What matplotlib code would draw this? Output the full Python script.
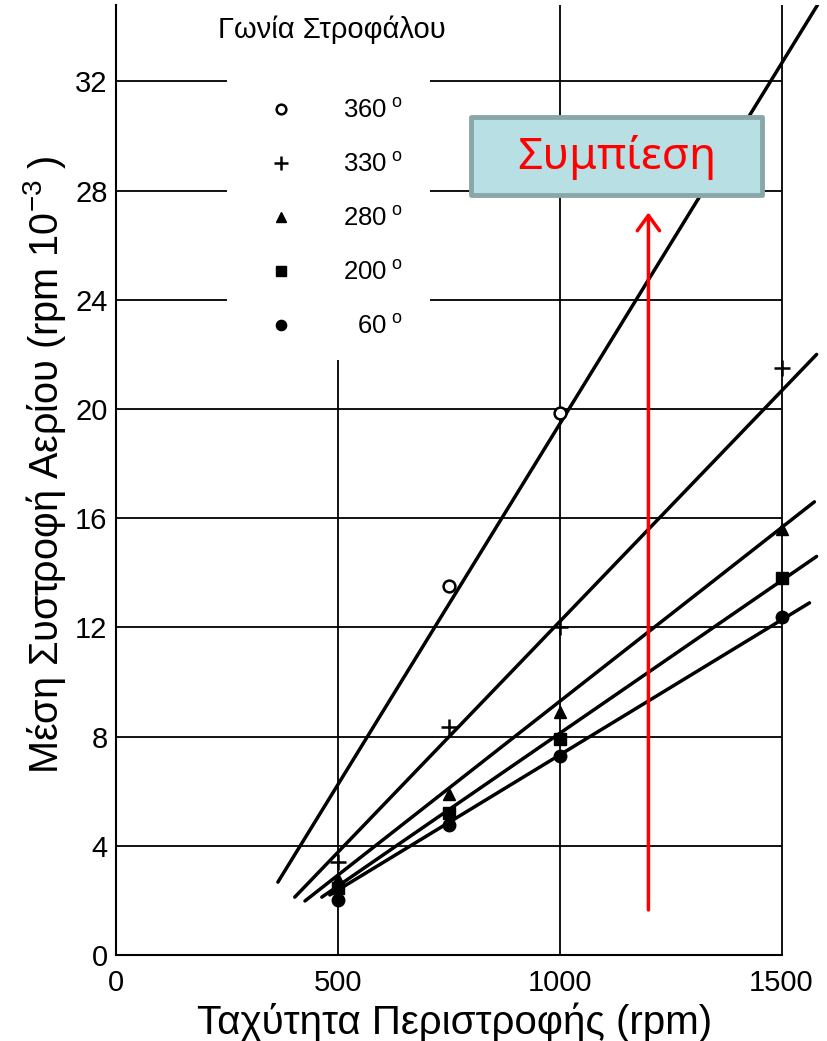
import matplotlib
matplotlib.use('Agg')
import matplotlib.pyplot as plt
from matplotlib.patches import Rectangle

plt.rcParams['font.family'] = ['Liberation Sans', 'DejaVu Sans']
plt.rcParams['mathtext.default'] = 'regular'

# measured points (rpm, torque x 10^-3)
rpm = [500, 750, 1000, 1500]
rpm_360 = [750, 1000]
t360 = [13.5, 19.85]
t330 = [3.4, 8.35, 12.0, 21.5]
t280 = [2.8, 5.9, 8.9, 15.6]
t200 = [2.45, 5.2, 7.9, 13.8]
t60 = [2.0, 4.75, 7.3, 12.4]

# fitted straight lines (end points)
fit_rpm_360 = [365, 1581]
fit_360 = [2.67, 34.8]
fit_rpm_330 = [403, 1579]
fit_330 = [2.12, 22.0]
fit_rpm_280 = [426, 1574]
fit_280 = [1.98, 16.6]
fit_rpm_200 = [464, 1579]
fit_200 = [2.12, 14.6]
fit_rpm_60 = [482, 1563]
fit_60 = [2.2, 12.9]

xticks = [0, 500, 1000, 1500]
yticks = [0, 4, 8, 12, 16, 20, 24, 28, 32]
labels = ['360', '330', '280', '200', '  60']

fig = plt.figure(figsize=(8.28, 10.41), dpi=100)
ax = fig.add_axes([0.140, 0.0826, 0.8575, 0.9126])
ax.set_xlim(0, 1600)
ax.set_ylim(0, 34.8)

# grid (horizontal lines stop at 1500)
ax.hlines(yticks[1:], 0, 1500, color='black', lw=1.3, zorder=1)
ax.vlines(xticks[1:], 0, 34.8, color='black', lw=1.3, zorder=1)
# blank area behind the legend
ax.add_patch(Rectangle((250, 21.8), 457, 14, facecolor='white',
                       edgecolor='none', zorder=2))

for fx, fy in [(fit_rpm_360, fit_360), (fit_rpm_330, fit_330),
               (fit_rpm_280, fit_280), (fit_rpm_200, fit_200),
               (fit_rpm_60, fit_60)]:
    ax.plot(fx, fy, color='black', lw=2.5, solid_capstyle='round', zorder=3)

deg = '$^{\\;o}$'
h1, = ax.plot(rpm_360, t360, ls='none', marker='o', ms=8.5, mfc='white',
              mec='black', mew=1.8, zorder=4, label=labels[0] + deg)
h2, = ax.plot(rpm, t330, ls='none', marker='+', ms=12, mec='black',
              mew=1.8, zorder=4, label=labels[1] + deg)
h3, = ax.plot(rpm, t280, ls='none', marker='^', ms=9, color='black',
              zorder=4, label=labels[2] + deg)
h4, = ax.plot(rpm, t200, ls='none', marker='s', ms=8.5, color='black',
              zorder=4, label=labels[3] + deg)
h5, = ax.plot(rpm, t60, ls='none', marker='o', ms=9, color='black',
              zorder=4, label=labels[4] + deg)

leg = ax.legend(handles=[h1, h2, h3, h4, h5], loc='upper left',
                bbox_to_anchor=(0.197, 0.915), frameon=False,
                fontsize=18.5, borderpad=0, handlelength=1,
                handletextpad=1.9, labelspacing=1.17, markerscale=0.82)
leg.set_zorder(5)
ax.text(0.304, 0.974, 'Γωνία Στροφάλου', transform=ax.transAxes,
        ha='center', va='center', fontsize=21)

# compression annotation
ax.annotate('', xy=(1200, 27.2), xytext=(1200, 1.65),
            arrowprops=dict(arrowstyle='->,head_length=0.55,head_width=0.4',
                            color='red', lw=2.5, mutation_scale=20,
                            shrinkA=0, shrinkB=0), zorder=6)
ax.add_patch(Rectangle((800, 27.84), 657, 2.86, facecolor='#b8dfe3',
                       edgecolor='#8aa7a8', lw=3.5, joinstyle='round',
                       zorder=7))
ax.text(1128, 29.2, 'Συμπίεση', color='red', fontsize=32,
        family=['Noto Sans', 'DejaVu Sans'], ha='center', va='center',
        zorder=8)

for side in ['top', 'right']:
    ax.spines[side].set_visible(False)
ax.spines['bottom'].set_bounds(0, 1500)
ax.spines['left'].set_linewidth(1.5)
ax.spines['bottom'].set_linewidth(1.5)
ax.set_xticks(xticks)
ax.set_yticks(yticks)
ax.tick_params(axis='both', length=0, labelsize=21)
ax.tick_params(axis='x', pad=10)
ax.tick_params(axis='y', pad=6)

ax.set_xlabel('Ταχύτητα Περιστροφής (rpm)', fontsize=29)
ax.xaxis.set_label_coords(0.477, -0.05)
ax.set_ylabel('Μέση Συστροφή Αερίου (rpm 10$^{-3}$ )', fontsize=28.5)
ax.yaxis.set_label_coords(-0.068, 0.516)

plt.savefig('out.png', dpi=100)
plt.close()
